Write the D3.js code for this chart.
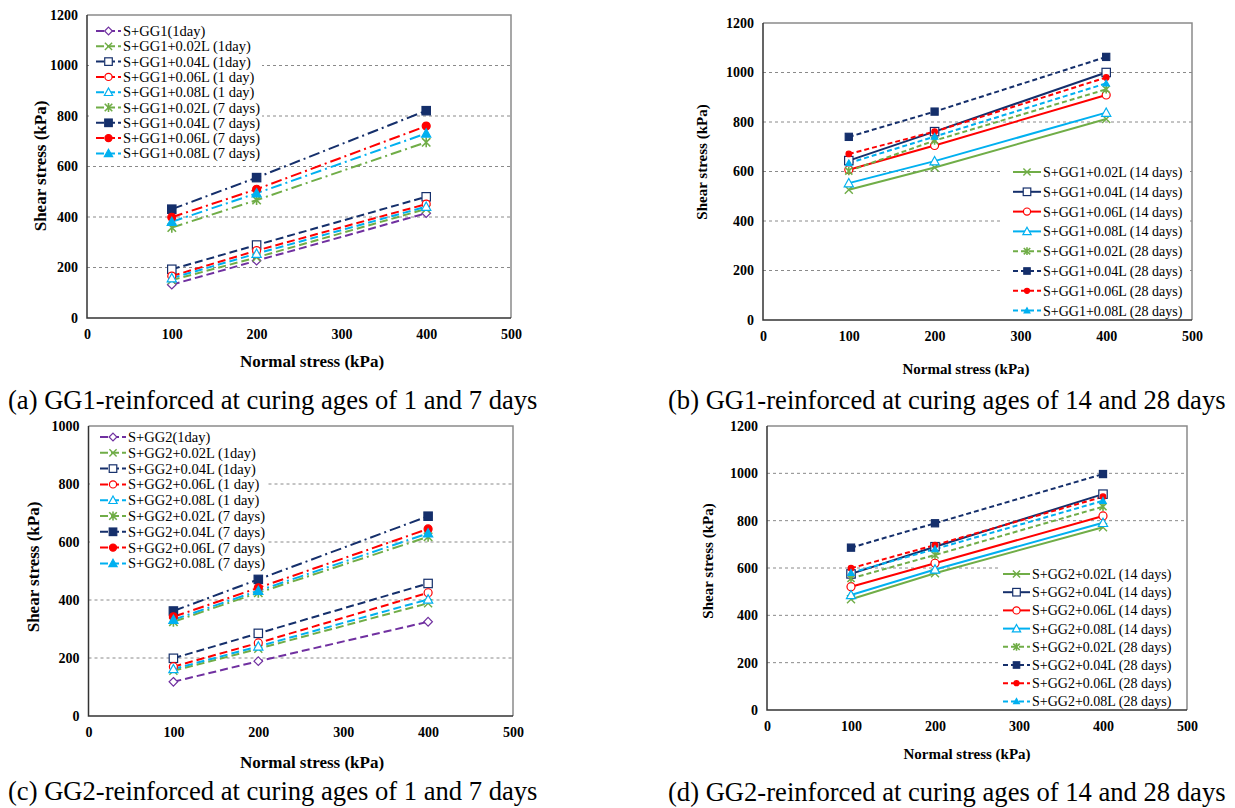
<!DOCTYPE html>
<html><head><meta charset="utf-8">
<script src="https://cdn.jsdelivr.net/npm/d3@7"></script>
<style>
body{margin:0;background:#fff}
svg{display:block}
text{font-family:"Liberation Serif","Times New Roman",serif;fill:#000}
</style></head>
<body><svg id="chart" width="1235" height="808"></svg>
<script>
// ---------- DATA ----------
const normalStress = [100, 200, 400];
const xTicks = [0, 100, 200, 300, 400, 500];
const yTicks1200 = [0, 200, 400, 600, 800, 1000, 1200];
const yTicks1000 = [0, 200, 400, 600, 800, 1000];

const captionA = "(a) GG1-reinforced at curing ages of 1 and 7 days";
const captionB = "(b) GG1-reinforced at curing ages of 14 and 28 days";
const captionC = "(c) GG2-reinforced at curing ages of 1 and 7 days";
const captionD = "(d) GG2-reinforced at curing ages of 14 and 28 days";

const labelsA = ["S+GG1(1day)", "S+GG1+0.02L (1day)", "S+GG1+0.04L (1day)", "S+GG1+0.06L (1 day)", "S+GG1+0.08L (1 day)",
  "S+GG1+0.02L (7 days)", "S+GG1+0.04L (7 days)", "S+GG1+0.06L (7 days)", "S+GG1+0.08L (7 days)"];
const valuesA = [
  [132, 227, 415],
  [150, 240, 432],
  [193, 289, 480],
  [166, 267, 451],
  [158, 255, 441],
  [358, 467, 696],
  [431, 556, 821],
  [399, 510, 760],
  [381, 494, 731]
];

const labelsB = ["S+GG1+0.02L (14 days)", "S+GG1+0.04L (14 days)", "S+GG1+0.06L (14 days)", "S+GG1+0.08L (14 days)",
  "S+GG1+0.02L (28 days)", "S+GG1+0.04L (28 days)", "S+GG1+0.06L (28 days)", "S+GG1+0.08L (28 days)"];
const valuesB = [
  [526, 616, 812],
  [644, 761, 1000],
  [607, 705, 909],
  [553, 642, 838],
  [602, 725, 932],
  [740, 842, 1063],
  [671, 761, 980],
  [634, 741, 956]
];

const labelsC = ["S+GG2(1day)", "S+GG2+0.02L (1day)", "S+GG2+0.04L (1day)", "S+GG2+0.06L (1 day)", "S+GG2+0.08L (1 day)",
  "S+GG2+0.02L (7 days)", "S+GG2+0.04L (7 days)", "S+GG2+0.06L (7 days)", "S+GG2+0.08L (7 days)"];
const valuesC = [
  [118, 189, 325],
  [156, 232, 389],
  [199, 285, 457],
  [170, 252, 425],
  [162, 240, 402],
  [325, 425, 618],
  [362, 471, 689],
  [342, 442, 645],
  [332, 432, 630]
];

const labelsD = ["S+GG2+0.02L (14 days)", "S+GG2+0.04L (14 days)", "S+GG2+0.06L (14 days)", "S+GG2+0.08L (14 days)",
  "S+GG2+0.02L (28 days)", "S+GG2+0.04L (28 days)", "S+GG2+0.06L (28 days)", "S+GG2+0.08L (28 days)"];
const valuesD = [
  [468, 578, 772],
  [575, 690, 912],
  [521, 620, 820],
  [486, 594, 791],
  [556, 655, 859],
  [686, 789, 997],
  [599, 697, 901],
  [580, 680, 884]
];

// ---------- STYLES ----------
const C = {purple:"#7030A0", green:"#70AD47", navy:"#152F6B", red:"#FF0000", cyan:"#00B0F0"};
const styles17 = [
  {c:C.purple, m:"diamond", f:false, d:"8,4"},
  {c:C.green,  m:"x",       f:false, d:"8,4"},
  {c:C.navy,   m:"square",  f:false, d:"8,4"},
  {c:C.red,    m:"circle",  f:false, d:"8,4"},
  {c:C.cyan,   m:"triangle",f:false, d:"8,4"},
  {c:C.green,  m:"star",    f:true,  d:"11,4,2,4"},
  {c:C.navy,   m:"square",  f:true,  d:"11,4,2,4"},
  {c:C.red,    m:"circle",  f:true,  d:"11,4,2,4"},
  {c:C.cyan,   m:"triangle",f:true,  d:"11,4,2,4"}
];
const styles1428 = [
  {c:C.green, m:"x",       f:false, d:null},
  {c:C.navy,  m:"square",  f:false, d:null},
  {c:C.red,   m:"circle",  f:false, d:null},
  {c:C.cyan,  m:"triangle",f:false, d:null},
  {c:C.green, m:"star",    f:true,  d:"5,3", s:0.85},
  {c:C.navy,  m:"square",  f:true,  d:"5,3", s:0.85},
  {c:C.red,   m:"circle",  f:true,  d:"5,3", s:0.7},
  {c:C.cyan,  m:"triangle",f:true,  d:"5,3", s:0.7}
];

const svg = d3.select("#chart");

function marker(g, st, x, y, k) {
  const s = (st.s || 1) * (k || 1);
  const col = st.c, fill = st.f ? col : "#fff";
  const sw = 1.2;
  if (st.m === "square") {
    const r = 4.2 * s;
    g.append("rect").attr("x", x - r).attr("y", y - r).attr("width", 2*r).attr("height", 2*r)
      .attr("fill", fill).attr("stroke", col).attr("stroke-width", sw);
  } else if (st.m === "circle") {
    g.append("circle").attr("cx", x).attr("cy", y).attr("r", 4 * s)
      .attr("fill", fill).attr("stroke", col).attr("stroke-width", sw);
  } else if (st.m === "diamond") {
    const r = 4.3 * s;
    g.append("path").attr("d", `M${x},${y-r}L${x+r},${y}L${x},${y+r}L${x-r},${y}Z`)
      .attr("fill", fill).attr("stroke", col).attr("stroke-width", sw);
  } else if (st.m === "triangle") {
    const r = 4.6 * s;
    g.append("path").attr("d", `M${x},${y-r}L${x+r},${y+r*0.8}L${x-r},${y+r*0.8}Z`)
      .attr("fill", fill).attr("stroke", col).attr("stroke-width", sw);
  } else if (st.m === "x") {
    const r = 4 * s;
    g.append("path").attr("d", `M${x-r},${y-r}L${x+r},${y+r}M${x-r},${y+r}L${x+r},${y-r}`)
      .attr("stroke", col).attr("stroke-width", 1.4).attr("fill", "none");
  } else if (st.m === "star") {
    const r = 4.2 * s;
    g.append("path").attr("d", `M${x-r},${y-r}L${x+r},${y+r}M${x-r},${y+r}L${x+r},${y-r}M${x},${y-r*1.2}L${x},${y+r*1.2}`)
      .attr("stroke", col).attr("stroke-width", 1.6).attr("fill", "none");
  }
}

function panel(p) {
  const g = svg.append("g");
  const x = d3.scaleLinear().domain([0, 500]).range([p.x0, p.x1]);
  const y = d3.scaleLinear().domain([0, p.ymax]).range([p.y0, p.y1]);

  // grid
  g.append("g").selectAll("line").data(p.yTicks.filter(v => v > 0 && v < p.ymax)).join("line")
    .attr("x1", p.x0).attr("x2", p.x1).attr("y1", d => y(d)).attr("y2", d => y(d))
    .attr("stroke", "#8a8a8a").attr("stroke-width", 1).attr("stroke-dasharray", "3,3");

  // axes with d3 axis
  const ya = g.append("g").attr("transform", `translate(${p.x0},0)`)
    .call(d3.axisLeft(y).tickValues(p.yTicks).tickSize(0).tickPadding(9).tickFormat(d3.format("d")));
  ya.select(".domain").remove();
  ya.selectAll("text").attr("font-size", p.tf).attr("font-weight", "bold");
  const xa = g.append("g").attr("transform", `translate(0,${p.y0})`)
    .call(d3.axisBottom(x).tickValues(xTicks).tickSize(0).tickPadding(p.xpad).tickFormat(d3.format("d")));
  xa.select(".domain").remove();
  xa.selectAll("text").attr("font-size", p.tf).attr("font-weight", "bold");

  // frame
  g.append("path").attr("d", `M${p.x0},${p.y1}H${p.x1}V${p.y0}`).attr("fill", "none")
    .attr("stroke", "#8a8a8a").attr("stroke-width", 1.5);
  g.append("path").attr("d", `M${p.x0},${p.y1}V${p.y0}H${p.x1}`).attr("fill", "none")
    .attr("stroke", "#333").attr("stroke-width", 1.5);

  // legend background
  g.append("rect").attr("x", p.lg.bx).attr("y", p.lg.by).attr("width", p.lg.bw).attr("height", p.lg.bh)
    .attr("fill", "#fff");

  // series
  const line = d3.line().x((d, i) => x(normalStress[i])).y(d => y(d));
  p.values.forEach((vals, i) => {
    const st = p.styles[i];
    g.append("path").attr("d", line(vals)).attr("fill", "none").attr("stroke", st.c)
      .attr("stroke-width", 2).attr("stroke-dasharray", st.d);
  });
  p.values.forEach((vals, i) => {
    const st = p.styles[i];
    vals.forEach((v, j) => marker(g, st, x(normalStress[j]), y(v)));
  });

  // legend
  p.labels.forEach((lab, i) => {
    const st = p.styles[i];
    const ly = p.lg.y + i * p.lg.dy;
    g.append("line").attr("x1", p.lg.lx0).attr("x2", p.lg.lx1).attr("y1", ly).attr("y2", ly)
      .attr("stroke", st.c).attr("stroke-width", 2).attr("stroke-dasharray", p.lg.dash ? p.lg.dash(st) : st.d);
    marker(g, st, (p.lg.lx0 + p.lg.lx1) / 2, ly, 0.9);
    g.append("text").attr("x", p.lg.lx1 + 2).attr("y", ly + 5).attr("font-size", p.lg.fs).text(lab);
  });

  // axis titles
  g.append("text").attr("transform", `translate(${p.yt.x},${p.yt.y}) rotate(-90)`)
    .attr("text-anchor", "middle").attr("font-size", p.atf).attr("font-weight", "bold").text("Shear stress (kPa)");
  g.append("text").attr("x", p.xt.x).attr("y", p.xt.y).attr("text-anchor", "middle")
    .attr("font-size", p.atf).attr("font-weight", "bold").text("Normal stress (kPa)");

  // caption
  g.append("text").attr("x", p.cap.x).attr("y", p.cap.y).attr("font-size", 26.6).text(p.caption);
}

panel({x0:87, x1:511, y0:318, y1:15, ymax:1200, yTicks:yTicks1200, tf:14, atf:17, xpad:11,
  values:valuesA, labels:labelsA, styles:styles17, caption:captionA,
  lg:{bx:89, by:17, bw:173, bh:143, y:31, dy:15.3, lx0:96, lx1:121, fs:14.5, dash:()=>"8,3"},
  yt:{x:46, y:166}, xt:{x:312, y:367}, cap:{x:8, y:409}});

panel({x0:763, x1:1192, y0:320, y1:23, ymax:1200, yTicks:yTicks1200, tf:14, atf:15, xpad:11,
  values:valuesB, labels:labelsB, styles:styles1428, caption:captionB,
  lg:{bx:1002, by:160, bw:188, bh:158, y:172, dy:19.8, lx0:1013, lx1:1041, fs:14},
  yt:{x:707, y:162}, xt:{x:966, y:374}, cap:{x:668, y:409}});

panel({x0:88.5, x1:513, y0:716, y1:426, ymax:1000, yTicks:yTicks1000, tf:14, atf:17, xpad:11,
  values:valuesC, labels:labelsC, styles:styles17, caption:captionC,
  lg:{bx:90, by:428, bw:178, bh:145, y:437, dy:15.8, lx0:100, lx1:126, fs:14.5, dash:()=>"8,3"},
  yt:{x:39, y:567}, xt:{x:312, y:768}, cap:{x:8, y:800}});

panel({x0:767, x1:1187, y0:710, y1:426, ymax:1200, yTicks:yTicks1200, tf:14, atf:15, xpad:11,
  values:valuesD, labels:labelsD, styles:styles1428, caption:captionD,
  lg:{bx:1000, by:563, bw:185, bh:146, y:574, dy:18.2, lx0:1003, lx1:1030, fs:14},
  yt:{x:713, y:561}, xt:{x:967, y:759}, cap:{x:668, y:801}});
</script>
</body></html>
